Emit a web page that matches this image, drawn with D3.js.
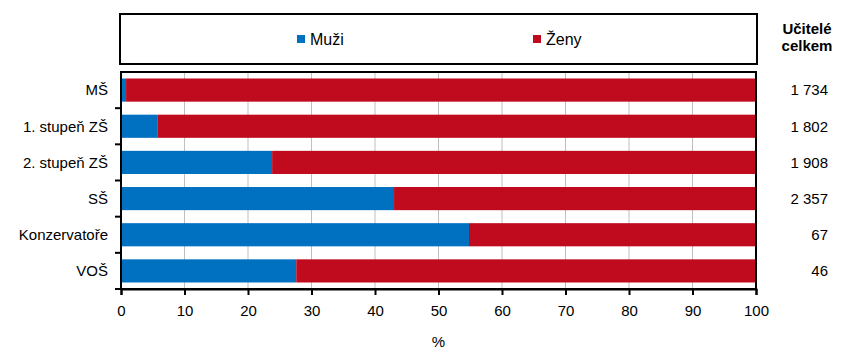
<html>
<head>
<meta charset="utf8">
</head>
<body style="margin:0">
<div id="canvas"></div>
<script src="https://cdn.jsdelivr.net/npm/d3@7"></script>
<script>

const categories = ['MŠ', '1. stupeň ZŠ', '2. stupeň ZŠ', 'SŠ', 'Konzervatoře', 'VOŠ'];
const muzi = [0.8, 5.8, 23.8, 43.0, 54.8, 27.6];
const zeny = [99.2, 94.2, 76.2, 57.0, 45.2, 72.4];
const celkem = ['1 734', '1 802', '1 908', '2 357', '67', '46'];
const xTicks = [0, 10, 20, 30, 40, 50, 60, 70, 80, 90, 100];

const W = 864, H = 363;
const sans = '"Liberation Sans", Arial, sans-serif';
const colors = {muzi: '#0070C0', zeny: '#C00A1E'};

const svg = d3.select('#canvas').append('svg')
    .attr('width', W)
    .attr('height', H);

const x = d3.scaleLinear().domain([0, 100]).range([121, 756]);
const y = d3.scaleBand().domain(categories).range([72, 289]).paddingInner(0.36).paddingOuter(0.18);

// mřížka
svg.append('g')
    .selectAll('line')
    .data(xTicks.slice(1, -1))
    .join('line')
    .attr('x1', d => x(d)).attr('x2', d => x(d))
    .attr('y1', 72).attr('y2', 289)
    .attr('stroke', '#bfbfbf')
    .attr('stroke-width', 1);

// sloupce
const rows = categories.map((c, i) => ({c, m: muzi[i], z: zeny[i]}));
svg.append('g').selectAll('rect')
    .data(rows)
    .join('rect')
    .attr('x', x(0))
    .attr('y', d => y(d.c))
    .attr('width', d => x(d.m) - x(0))
    .attr('height', y.bandwidth())
    .attr('fill', colors.muzi);
svg.append('g').selectAll('rect')
    .data(rows)
    .join('rect')
    .attr('x', d => x(d.m))
    .attr('y', d => y(d.c))
    .attr('width', d => x(d.m + d.z) - x(d.m))
    .attr('height', y.bandwidth())
    .attr('fill', colors.zeny);

// rámeček grafu
svg.append('rect')
    .attr('x', 121).attr('y', 72)
    .attr('width', 635).attr('height', 217)
    .attr('fill', 'none')
    .attr('stroke', '#000')
    .attr('stroke-width', 2);

// osa x
const xAxis = svg.append('g')
    .attr('transform', 'translate(0,289)')
    .call(d3.axisBottom(x).tickValues(xTicks).tickSize(6).tickPadding(10));
xAxis.select('.domain').attr('stroke-width', 2);
xAxis.selectAll('line').attr('stroke-width', 2);
xAxis.selectAll('text').attr('font-family', sans).attr('font-size', 15).attr('fill', '#000');

// osa y - značky mezi kategoriemi
const bounds = d3.range(1, categories.length + 1).map(i => 72 + (217 / categories.length) * i);
svg.append('g').selectAll('line')
    .data(bounds)
    .join('line')
    .attr('x1', 115).attr('x2', 121)
    .attr('y1', d => d).attr('y2', d => d)
    .attr('stroke', '#000')
    .attr('stroke-width', 2);

svg.append('g').selectAll('text')
    .data(categories)
    .join('text')
    .attr('x', 108)
    .attr('y', d => y(d) + y.bandwidth() / 2)
    .attr('dy', '0.35em')
    .attr('text-anchor', 'end')
    .attr('font-family', sans)
    .attr('font-size', 15)
    .text(d => d);

// celkem
svg.append('g').selectAll('text')
    .data(celkem)
    .join('text')
    .attr('x', 828)
    .attr('y', (d, i) => y(categories[i]) + y.bandwidth() / 2)
    .attr('dy', '0.35em')
    .attr('text-anchor', 'end')
    .attr('font-family', sans)
    .attr('font-size', 15)
    .text(d => d);

svg.append('text')
    .attr('text-anchor', 'middle')
    .attr('font-family', sans)
    .attr('font-size', 15)
    .attr('font-weight', 'bold')
    .selectAll('tspan')
    .data(['Učitelé', 'celkem'])
    .join('tspan')
    .attr('x', 807)
    .attr('y', (d, i) => 34 + i * 17)
    .text(d => d);

// popis osy
svg.append('text')
    .attr('x', x(50)).attr('y', 347)
    .attr('text-anchor', 'middle')
    .attr('font-family', sans)
    .attr('font-size', 15)
    .text('%');

// legenda
svg.append('rect')
    .attr('x', 120).attr('y', 14)
    .attr('width', 637).attr('height', 50)
    .attr('fill', 'none')
    .attr('stroke', '#000')
    .attr('stroke-width', 2);
const legend = [{name: 'Muži', color: colors.muzi, x: 297}, {name: 'Ženy', color: colors.zeny, x: 533}];
const lg = svg.append('g').selectAll('g').data(legend).join('g')
    .attr('transform', d => `translate(${d.x},39)`);
lg.append('rect').attr('x', 0).attr('y', -4).attr('width', 8).attr('height', 8).attr('fill', d => d.color);
lg.append('text').attr('x', 13).attr('dy', '0.36em')
    .attr('font-family', sans).attr('font-size', 16)
    .text(d => d.name);
</script>

</body>
</html>
